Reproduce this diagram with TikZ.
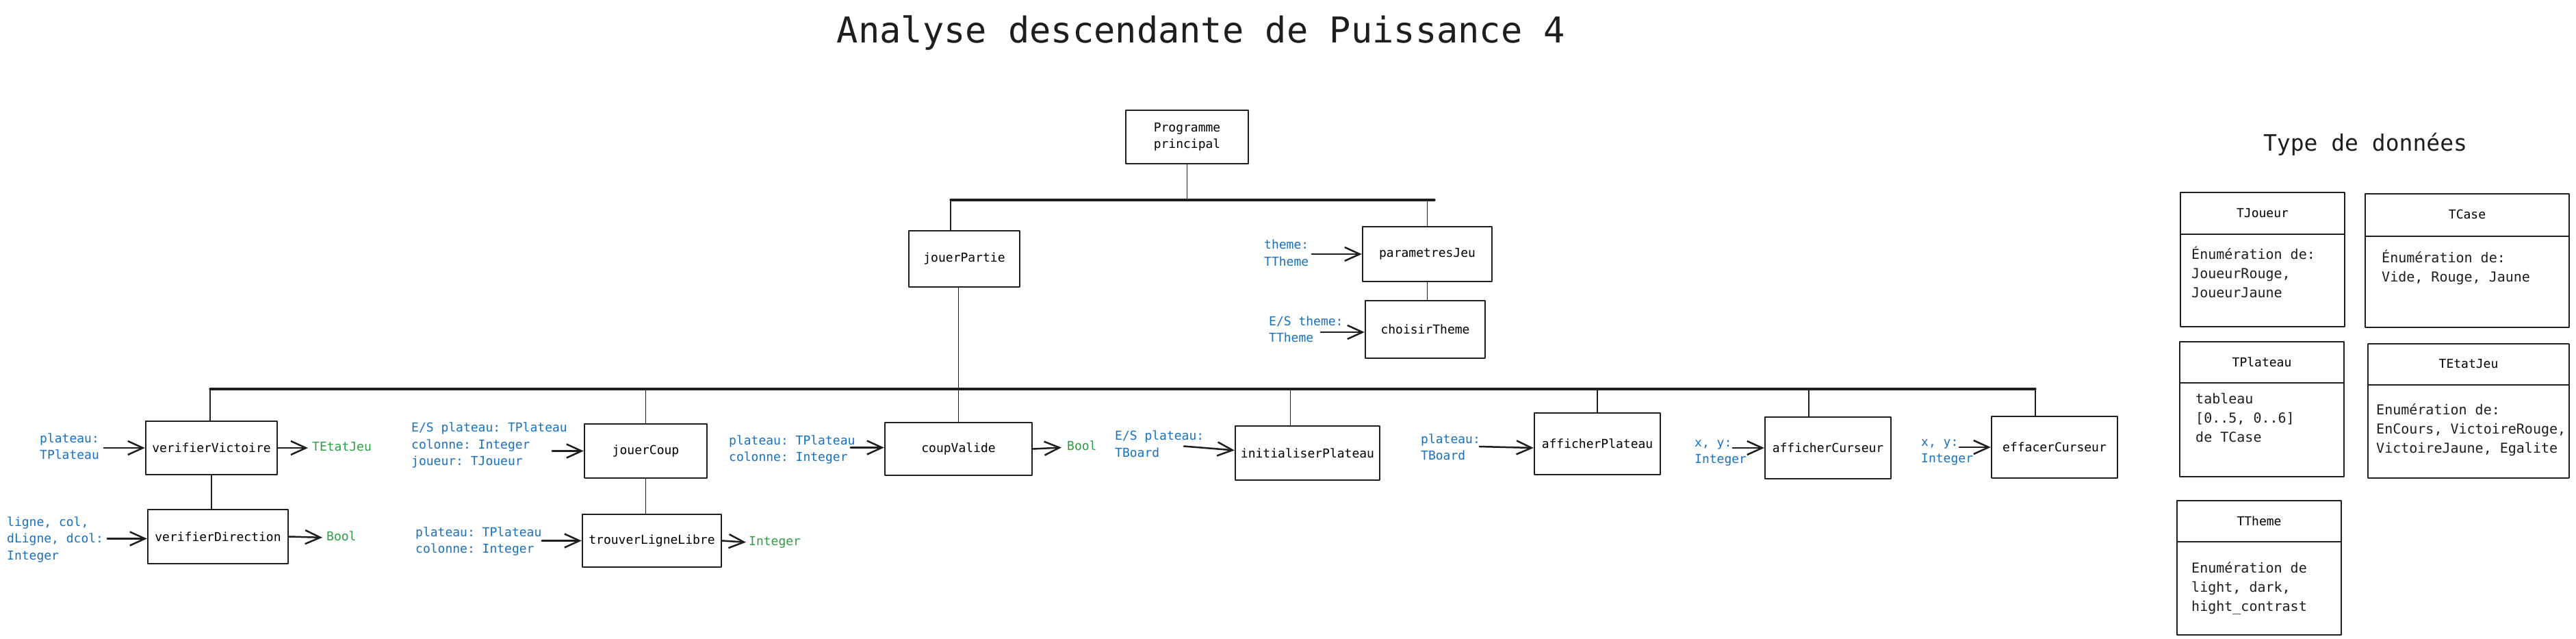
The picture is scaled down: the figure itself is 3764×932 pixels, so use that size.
\documentclass[tikz,border=0pt]{standalone}
\usepackage{fontspec}
\setmonofont{DejaVu Sans Mono}
\usetikzlibrary{arrows.meta, calc}

\newcommand{\boxfont}{\ttfamily\fontsize{18}{24.5}\selectfont}
\newcommand{\typefont}{\ttfamily\fontsize{20}{28}\selectfont}
\newcommand{\typeheadfont}{\ttfamily\fontsize{18}{22}\selectfont}
\newcommand{\typetitlefont}{\ttfamily\fontsize{33}{40}\selectfont}
\newcommand{\mytitlefont}{\ttfamily\fontsize{52}{60}\selectfont}

\begin{document}
\begin{tikzpicture}[x=1pt, y=-1pt, line cap=round, line join=round,
    box/.style={draw=myblack, line width=2.4pt, inner sep=0pt, font=\boxfont, align=center},
    intxt/.style={myblue, font=\boxfont, align=left, anchor=west, inner sep=0pt},
    outtxt/.style={mygreen, font=\boxfont, anchor=west, inner sep=0pt, text height=13pt, text depth=4pt},
    arr/.style={-{Straight Barb[length=22pt, width=20pt]}, line width=2.5pt, myblack},
    link/.style={line width=1.5pt, myblack},
    bus/.style={line width=3.2pt, myblack},
    typebox/.style={draw=myblack, line width=2.4pt, inner sep=0pt},
    typehead/.style={inner sep=0pt, outer sep=0pt, font=\typeheadfont, anchor=north},
    sep/.style={line width=1.5pt, myblack},
    typetxt/.style={font=\typefont, align=left, anchor=west, inner sep=0pt, myblack}]

    % --- Definitions ---
    \definecolor{myblue}{RGB}{25, 113, 194}
    \definecolor{mygreen}{RGB}{47, 158, 68}
    \definecolor{myblack}{RGB}{30, 30, 30}

    \useasboundingbox (0,0) rectangle (3764,932);
    \fill[white] (0,0) rectangle (3764,932);

    % --- Title ---
    \node[font=\mytitlefont, anchor=base, myblack] (title) at (1755,62) {Analyse descendante de Puissance 4};

    % --- Upper levels ---
    \node[box, minimum width=179pt, minimum height=78pt] (prog) at (1734.5,200) {Programme\\principal};
    \node[box, minimum width=162pt, minimum height=82pt] (jP) at (1409,378) {jouerPartie};
    \node[box, minimum width=189pt, minimum height=80pt] (pJ) at (2085.5,371) {parametresJeu};
    \node[box, minimum width=175pt, minimum height=84pt] (cT) at (2082.5,481) {choisirTheme};

    % --- Lower level ---
    \node[box, minimum width=192pt, minimum height=78pt] (vV) at (309,654) {verifierVictoire};
    \node[box, minimum width=205pt, minimum height=79pt] (vD) at (318.5,783.5) {verifierDirection};
    \node[box, minimum width=179pt, minimum height=79pt] (jC) at (943.5,658.5) {jouerCoup};
    \node[box, minimum width=203pt, minimum height=77pt] (tLL) at (952.5,789.5) {trouverLigneLibre};
    \node[box, minimum width=215pt, minimum height=77pt] (cV) at (1400.5,655.5) {coupValide};
    \node[box, minimum width=211pt, minimum height=79pt] (iP) at (1910.5,661.5) {initialiserPlateau};
    \node[box, minimum width=184pt, minimum height=90pt] (aP) at (2334,648) {afficherPlateau};
    \node[box, minimum width=184pt, minimum height=90pt] (aC) at (2671,654) {afficherCurseur};
    \node[box, minimum width=184pt, minimum height=90pt] (eC) at (3002,653) {effacerCurseur};

    % --- Tree links ---
    \coordinate (busA) at (1389,292);
    \coordinate (busAend) at (2096,292);
    \draw[bus] (busA) -- (busAend);
    \draw[link] (prog.south) -- (prog.south |- busA);
    \draw[link] (busA) -- (busA |- jP.north);
    \draw[link] (pJ.north |- busA) -- (pJ.north);
    \draw[link] (pJ.south) -- (pJ.south |- cT.north);
    \draw[link] (cV.north |- jP.south) -- (cV.north);

    \coordinate (busB) at (307,568);
    \coordinate (busBend) at (2974,568);
    \draw[bus] (busB) -- (busBend);
    \draw[link] (busB) -- (busB |- vV.north);
    \draw[link] (jC.north |- busB) -- (jC.north);
    \draw[link] ($(iP.north |- busB)+(-25,0)$) -- ($(iP.north)+(-25,0)$);
    \draw[link] (aP.north |- busB) -- (aP.north);
    \draw[link] ($(aC.north |- busB)+(-28,0)$) -- ($(aC.north)+(-28,0)$);
    \draw[link] (busBend) -- (busBend |- eC.north);
    \draw[link] (vV.south) -- (vV.south |- vD.north);
    \draw[link] (jC.south) -- (jC.south |- tLL.north);

    % --- Inputs ---
    \node[intxt] (pJin) at (1847,369.5) {theme:\\TTheme};
    \draw[arr] ([xshift=-73pt]pJ.west) -- (pJ.west);
    \node[intxt] (cTin) at (1854,481) {E/S theme:\\TTheme};
    \draw[arr] ([xshift=-64pt, yshift=-4pt]cT.west) -- ([yshift=-4pt]cT.west);

    \node[intxt] (vVin) at (58,651.5) {plateau:\\TPlateau};
    \draw[arr] ([xshift=-60pt]vV.west) -- (vV.west);
    \node[intxt] (vDin) at (10,788) {ligne, col,\\dLigne, dcol:\\Integer};
    \draw[arr] ([xshift=-58pt, yshift=-3pt]vD.west) -- ([yshift=-3pt]vD.west);
    \node[intxt] (jCin) at (601,650) {E/S plateau: TPlateau\\colonne: Integer\\joueur: TJoueur};
    \draw[arr] ([xshift=-46pt]jC.west) -- (jC.west);
    \node[intxt] (tLLin) at (607,790.5) {plateau: TPlateau\\colonne: Integer};
    \draw[arr] ([xshift=-58pt]tLL.west) -- (tLL.west);
    \node[intxt] (cVin) at (1065,656.5) {plateau: TPlateau\\colonne: Integer};
    \draw[arr] ([xshift=-49pt, yshift=2pt]cV.west) -- ([yshift=2pt]cV.west);
    \node[intxt] (iPin) at (1629,648) {E/S plateau:\\TBoard};
    \draw[arr] ([xshift=-74pt, yshift=10pt]iP.west) -- ([yshift=4pt]iP.west);
    \node[intxt] (aPin) at (2076,652.5) {plateau:\\TBoard};
    \draw[arr] ([xshift=-79pt, yshift=-4pt]aP.west) -- ([yshift=-6pt]aP.west);
    \node[intxt] (aCin) at (2476,661.5) {x, y:\\Integer};
    \draw[arr] ([xshift=-46pt]aC.west) -- (aC.west);
    \node[intxt] (eCin) at (2807,660.5) {x, y:\\Integer};
    \draw[arr] ([xshift=-46pt]eC.west) -- (eC.west);

    % --- Outputs ---
    \node[outtxt] (vVout) at (456,654) {TEtatJeu};
    \draw[arr, shorten >=6pt] (vV.east) -- (vVout.west);
    \node[outtxt] (vDout) at (477,785) {Bool};
    \draw[arr, shorten >=6pt] (vD.east) -- (vDout.west);
    \node[outtxt] (tLLout) at (1094,792) {Integer};
    \draw[arr, shorten >=4pt] (tLL.east) -- (tLLout.west);
    \node[outtxt] (cVout) at (1559,653) {Bool};
    \draw[arr, shorten >=8pt] (cV.east) -- (cVout.west);

    % --- Data types ---
    \node[font=\typetitlefont, anchor=base, myblack] (types) at (3456,220) {Type de données};

    \node[typebox, minimum width=240pt, minimum height=196pt] (tJoueurBox) at (3306,379) {};
    \node[typehead, minimum width=240pt, minimum height=62pt] (tJoueur) at (tJoueurBox.north) {TJoueur};
    \draw[sep] (tJoueur.south west) -- (tJoueur.south east);
    \node[typetxt] (tJoueurT) at (3202,397) {Énumération de:\\JoueurRouge,\\JoueurJaune};

    \node[typebox, minimum width=298pt, minimum height=195pt] (tCaseBox) at (3605,380.5) {};
    \node[typehead, minimum width=298pt, minimum height=63pt] (tCase) at (tCaseBox.north) {TCase};
    \draw[sep] (tCase.south west) -- (tCase.south east);
    \node[typetxt] (tCaseT) at (3480,390.5) {Énumération de:\\Vide, Rouge, Jaune};

    \node[typebox, minimum width=240pt, minimum height=197pt] (tPlateauBox) at (3305,597.5) {};
    \node[typehead, minimum width=240pt, minimum height=61pt] (tPlateau) at (tPlateauBox.north) {TPlateau};
    \draw[sep] (tPlateau.south west) -- (tPlateau.south east);
    \node[typetxt] (tPlateauT) at (3208,610) {tableau\\{[0..5, 0..6]}\\de TCase};

    \node[typebox, minimum width=294pt, minimum height=196pt] (tEtatBox) at (3607,600) {};
    \node[typehead, minimum width=294pt, minimum height=61pt] (tEtat) at (tEtatBox.north) {TEtatJeu};
    \draw[sep] (tEtat.south west) -- (tEtat.south east);
    \node[typetxt] (tEtatT) at (3472,627.5) {Enumération de:\\EnCours, VictoireRouge,\\VictoireJaune, Egalite};

    \node[typebox, minimum width=240pt, minimum height=196pt] (tThemeBox) at (3301,829) {};
    \node[typehead, minimum width=240pt, minimum height=61pt] (tTheme) at (tThemeBox.north) {TTheme};
    \draw[sep] (tTheme.south west) -- (tTheme.south east);
    \node[typetxt] (tThemeT) at (3202,859) {Enumération de\\light, dark,\\hight\_contrast};

\end{tikzpicture}
\end{document}
